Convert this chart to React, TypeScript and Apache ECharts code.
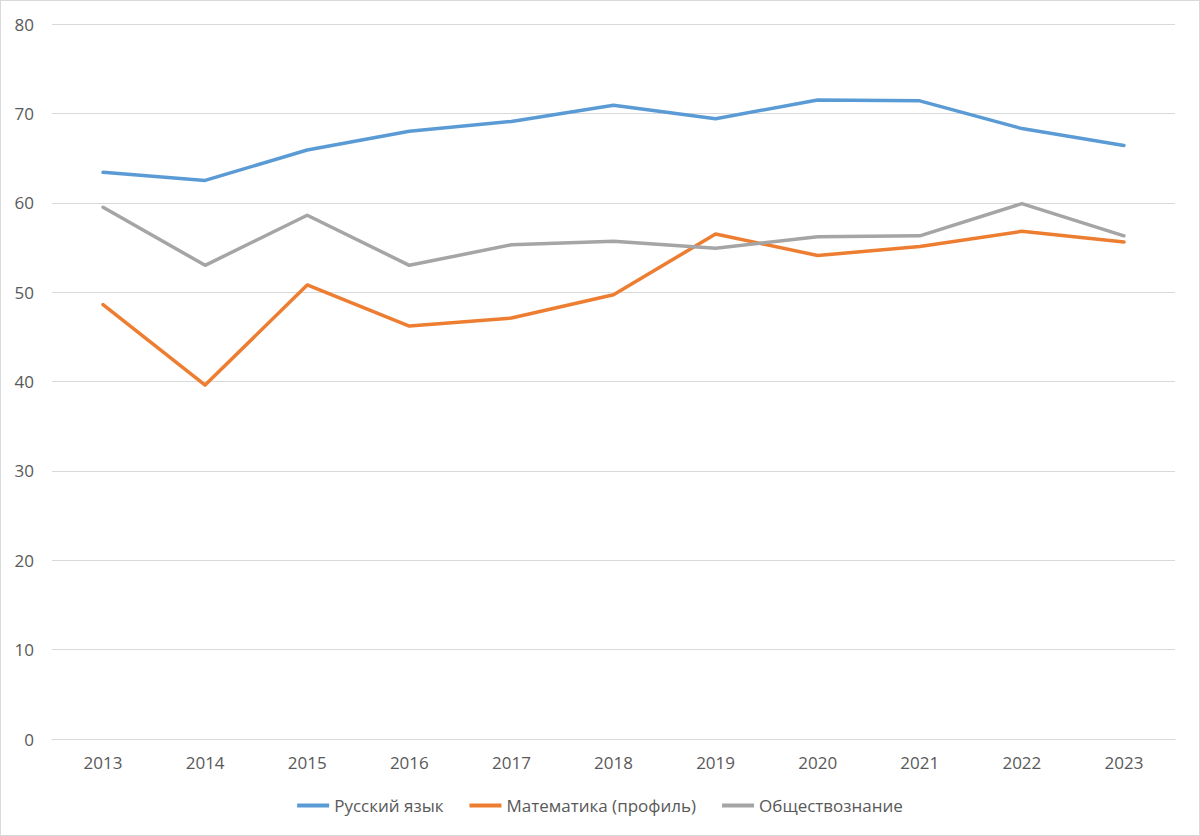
import React, { useEffect, useRef } from "react";
import * as echarts from "echarts";

const years = ["2013", "2014", "2015", "2016", "2017", "2018", "2019", "2020", "2021", "2022", "2023"];
const russian = [63.4, 62.5, 65.9, 68.0, 69.1, 70.9, 69.4, 71.5, 71.4, 68.3, 66.4];
const math = [48.6, 39.6, 50.8, 46.2, 47.1, 49.7, 56.5, 54.1, 55.1, 56.8, 55.6];
const social = [59.5, 53.0, 58.6, 53.0, 55.3, 55.7, 54.9, 56.2, 56.3, 59.9, 56.3];
const seriesNames = ["Русский язык", "Математика (профиль)", "Обществознание"];
const colors = ["#5B9BD5", "#ED7D31", "#A5A5A5"];

const FONT = "'Open Sans', sans-serif";

export default function App() {
  const ref = useRef<HTMLDivElement>(null);
  useEffect(() => {
    document.body.style.margin = "0";
    if (!ref.current) return;
    const chart = echarts.init(ref.current, undefined, { renderer: "svg" });
    const data = [russian, math, social];
    chart.setOption({
      animation: false,
      backgroundColor: "#ffffff",
      grid: { left: 51, right: 24, top: 23, bottom: 96 },
      legend: {
        bottom: 16,
        left: "center",
        icon: "rect",
        itemWidth: 32,
        itemHeight: 4,
        itemGap: 26,
        textStyle: { color: "#595959", fontSize: 17, fontFamily: FONT },
        data: seriesNames,
      },
      xAxis: {
        type: "category",
        data: years,
        boundaryGap: true,
        axisLine: { show: true, lineStyle: { color: "#d9d9d9", width: 1 } },
        axisTick: { show: false },
        axisLabel: { color: "#595959", fontSize: 17, fontFamily: FONT, margin: 15 },
      },
      yAxis: {
        type: "value",
        min: 0,
        max: 80,
        interval: 10,
        axisLine: { show: false },
        axisTick: { show: false },
        splitLine: { lineStyle: { color: "#d9d9d9", width: 1 } },
        axisLabel: { color: "#595959", fontSize: 17, fontFamily: FONT, margin: 18 },
      },
      series: seriesNames.map((name, i) => ({
        name,
        type: "line",
        data: data[i],
        symbol: "none",
        lineStyle: { color: colors[i], width: 3.5, cap: "round", join: "round" },
        itemStyle: { color: colors[i] },
      })),
    });
    return () => chart.dispose();
  }, []);
  return (
    <div
      style={{
        width: 1200,
        height: 836,
        boxSizing: "border-box",
        border: "1.5px solid #d9d9d9",
        background: "#fff",
      }}
    >
      <div ref={ref} style={{ width: "100%", height: "100%" }} />
    </div>
  );
}
